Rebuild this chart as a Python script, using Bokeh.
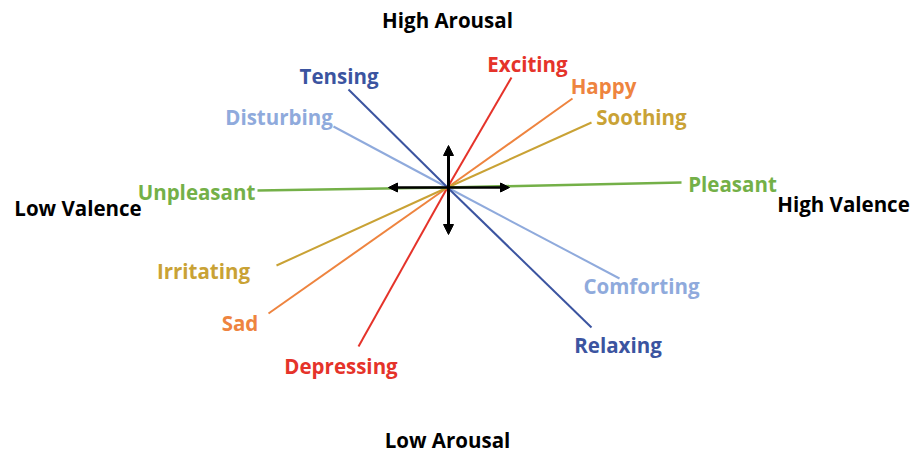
from bokeh.plotting import figure
from bokeh.models import Range1d, Arrow, NormalHead, ColumnDataSource
from bokeh.embed import file_html
from bokeh.resources import INLINE
from bokeh.core.properties import value

# Emotion rays: valence (x) and arousal (y) of each end point, centre at (0, 0)
emotions = ["Exciting", "Happy", "Soothing", "Pleasant", "Comforting", "Relaxing",
            "Depressing", "Sad", "Irritating", "Unpleasant", "Disturbing", "Tensing"]
valence = [64, 125, 144, 234, 172, 144, -89, -179, -171, -190, -114, -99]
arousal = [110, 89, 65, 5, -91, -140, -159, -126, -78, -3, 61, 98]
colors = ["#E5332A", "#EE843F", "#C9A235", "#74B048", "#8FAADC", "#3B54A0",
          "#E5332A", "#EE843F", "#C9A235", "#74B048", "#8FAADC", "#3B54A0"]
# label placement relative to the end of each ray (screen px, y down)
label_dx = [16, 31, 50, 51, 22, 26.5, -17.5, -28.5, -73, -61, -54.5, -9.5]
label_dy = [-14, -13, -6, 1, 7, 17, 19, 9, 5, 1, -10, -14]
widths = [2, 2, 2, 2.6, 2, 2, 2, 2, 2, 2.6, 2, 2]

axis_titles = ["High Arousal", "Low Arousal", "Low Valence", "High Valence"]
axis_x = [0, 0, -369.5, 396]
axis_y = [168, -252, -20, -16]

src = ColumnDataSource(dict(
    x0=[0] * len(emotions), y0=[0] * len(emotions),
    valence=valence, arousal=arousal, colors=colors,
    emotions=emotions, dx=label_dx, dy=label_dy, widths=widths,
))

p = figure(width=914, height=454, x_range=Range1d(-447, 467), y_range=Range1d(-267, 187),
           output_backend="svg", toolbar_location=None, min_border=0)
p.axis.visible = False
p.grid.visible = False
p.outline_line_color = None
p.background_fill_color = "white"

p.segment(x0="x0", y0="y0", x1="valence", y1="arousal", line_color="colors",
          line_width="widths", source=src)

# double-headed black axes arrows
p.add_layout(Arrow(start=NormalHead(size=9, fill_color="black", line_color="black"),
                   end=NormalHead(size=9, fill_color="black", line_color="black"),
                   x_start=-59, y_start=0, x_end=62, y_end=0,
                   line_color="black", line_width=2.5))
p.add_layout(Arrow(start=NormalHead(size=10, fill_color="black", line_color="black"),
                   end=NormalHead(size=10, fill_color="black", line_color="black"),
                   x_start=1, y_start=42, x_end=1, y_end=-47,
                   line_color="black", line_width=3))

p.text(x="valence", y="arousal", text="emotions", x_offset="dx", y_offset="dy",
       text_color="colors", text_font=value("Open Sans"), text_font_style="bold",
       text_font_size="20.5px", text_align="center", text_baseline="alphabetic", source=src)

p.text(x=axis_x, y=axis_y, text=axis_titles, text_color="black",
       text_font=value("Open Sans"), text_font_style="bold", text_font_size="20.5px",
       text_align="center", text_baseline="alphabetic")

open("out.html", "w").write(file_html(p, INLINE))
